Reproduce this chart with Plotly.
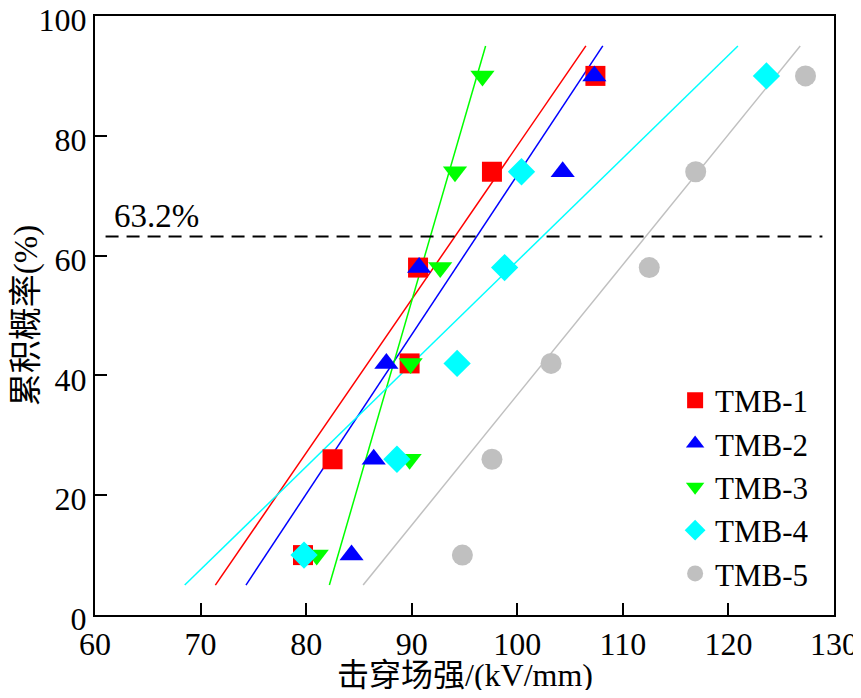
import plotly.graph_objects as go

# Cumulative probability (%) levels
prob = [10, 26, 42, 58, 74, 90]

names = ["TMB-1", "TMB-2", "TMB-3", "TMB-4", "TMB-5"]
tmb1 = [79.7, 82.5, 89.8, 90.6, 97.6, 107.4]
tmb2 = [84.3, 86.4, 87.6, 90.7, 104.3, 107.3]
tmb3 = [81.0, 89.8, 89.9, 92.7, 94.1, 96.7]
tmb4 = [79.8, 88.6, 94.3, 98.8, 100.4, 123.6]
tmb5 = [94.8, 97.6, 103.2, 112.5, 116.9, 127.3]

# fitted lines: x at y=5 and y=95
fit_y = [5, 95]
fit1 = [71.4, 106.5]
fit2 = [74.3, 108.1]
fit3 = [82.2, 97.0]
fit4 = [68.5, 120.9]
fit5 = [85.4, 126.8]

ref_level = 63.2
ref_x = [61.0, 128.9]

x_title = "击穿场强/(kV/mm)"
y_title = "累积概率(%)"

colors = ["#FF0000", "#0000FF", "#00FF00", "#00FFFF", "#C0C0C0"]
symbols = ["square", "triangle-up", "triangle-down", "diamond", "circle"]
sizes = [20, 21, 21, 21, 21]

series = [tmb1, tmb2, tmb3, tmb4, tmb5]
fits = [fit1, fit2, fit3, fit4, fit5]

FONT = "Liberation Serif, Times New Roman, Noto Sans CJK SC, serif"

fig = go.Figure()

for f, c in zip(fits, colors):
    fig.add_trace(go.Scatter(x=f, y=fit_y, mode="lines",
                             line=dict(color=c, width=1.5),
                             showlegend=False, hoverinfo="skip"))

fig.add_trace(go.Scatter(x=ref_x, y=[ref_level, ref_level], mode="lines",
                         line=dict(color="black", width=2, dash="13px,8px"),
                         showlegend=False, hoverinfo="skip"))

for s, n, c, sym, sz in zip(series, names, colors, symbols, sizes):
    fig.add_trace(go.Scatter(x=s, y=prob, mode="markers", name=n,
                             marker=dict(color=c, symbol=sym, size=sz,
                                         line=dict(width=0))))

fig.add_annotation(x=61.6, y=66.6, text="63.2%", showarrow=False,
                   xanchor="left", yanchor="middle",
                   font=dict(family=FONT, size=33, color="black"))

# x-axis title placed as a paper annotation below the tick labels
fig.add_annotation(x=0.5, y=-0.100, xref="paper", yref="paper",
                   text=x_title, showarrow=False,
                   xanchor="center", yanchor="middle",
                   font=dict(family=FONT, size=32, color="black"))

# page body has an 8px margin; figure is sized/offset to compensate
fig.update_layout(
    width=853, height=682,
    margin=dict(l=86.5, r=26.5, t=7.7, b=75),
    paper_bgcolor="white", plot_bgcolor="white",
    font=dict(family=FONT, size=32, color="black"),
    legend=dict(x=0.785, y=0.403, xanchor="left", yanchor="top",
                bgcolor="rgba(0,0,0,0)", font=dict(size=31),
                itemsizing="trace", tracegroupgap=0),
    showlegend=True,
)

fig.update_xaxes(range=[60, 130], dtick=10, tick0=60, automargin=False,
                 showline=True, linecolor="black", linewidth=2, mirror=True,
                 ticks="inside", ticklen=12, tickwidth=2, tickcolor="black",
                 showgrid=False, zeroline=False, ticklabeloverflow="allow",
                 tickfont=dict(size=32))
fig.update_yaxes(range=[0, 100], dtick=20, tick0=0, automargin=False,
                 showline=True, linecolor="black", linewidth=2, mirror=True,
                 ticks="inside", ticklen=12, tickwidth=2, tickcolor="black",
                 showgrid=False, zeroline=False, ticklabeloverflow="allow",
                 ticklabelshift=4,
                 title=dict(text=y_title, font=dict(size=33), standoff=0),
                 tickfont=dict(size=32))

fig.write_html("out.html")
